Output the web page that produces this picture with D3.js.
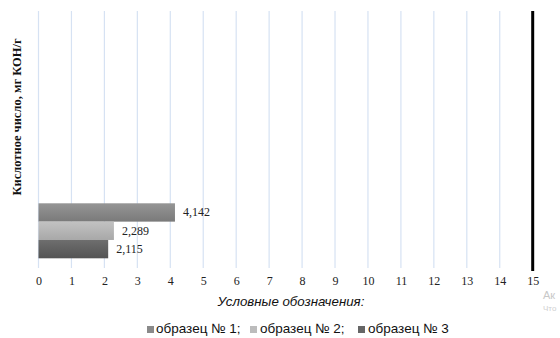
<!DOCTYPE html>
<html>
<head>
<meta charset="utf-8">
<script src="https://cdn.jsdelivr.net/npm/d3@7"></script>
<style>
  html, body { margin: 0; padding: 0; background: #fff; }
  svg { display: block; }
</style>
</head>
<body>
<svg id="chart" width="560" height="338"></svg>
<script>
// Acid number by sample
const seriesNames = ["образец № 1", "образец № 2", "образец № 3"];
const seriesValues = [4.142, 2.289, 2.115];
const valueLabels = ["4,142", "2,289", "2,115"];
const tickValues = [0, 1, 2, 3, 4, 5, 6, 7, 8, 9, 10, 11, 12, 13, 14, 15];
const yTitle = "Кислотное число, мг КОН/г";
const xTitle = "Условные обозначения:";

const barTop = ["#959595", "#c2c2c2", "#6e6e6e"];
const barBottom = ["#7a7a7a", "#a8a8a8", "#545454"];
const swatch = ["#8a8a8a", "#bcbcbc", "#666666"];

const SERIF = "'Liberation Serif', 'Times New Roman', serif";
const SANS = "'Liberation Sans', Arial, sans-serif";

const svg = d3.select("#chart");
const plot = { left: 38.5, right: 532.7, top: 11, bottom: 268 };

const x = d3.scaleLinear().domain([0, 15]).range([plot.left, plot.right]);
const y = d3.scaleBand().domain(seriesNames).range([203.3, 258.3]).padding(0);

const defs = svg.append("defs");
seriesNames.forEach((s, i) => {
  const g = defs.append("linearGradient")
    .attr("id", "g" + i).attr("x1", 0).attr("y1", 0).attr("x2", 0).attr("y2", 1);
  g.append("stop").attr("offset", "0%").attr("stop-color", barTop[i]);
  g.append("stop").attr("offset", "100%").attr("stop-color", barBottom[i]);
});

// vertical gridlines
svg.append("g")
  .selectAll("line")
  .data(tickValues.slice(0, -1))
  .join("line")
  .attr("x1", d => x(d)).attr("x2", d => x(d))
  .attr("y1", plot.top).attr("y2", plot.bottom)
  .attr("stroke", "#d6e2f3").attr("stroke-width", 1.2);

// heavy line at the upper limit
svg.append("line")
  .attr("x1", x(15)).attr("x2", x(15))
  .attr("y1", plot.top).attr("y2", 271)
  .attr("stroke", "#000").attr("stroke-width", 3);

// tick labels
const axis = d3.axisBottom(x).tickValues(tickValues).tickSize(0).tickPadding(0).tickFormat(d3.format("d"));
const ax = svg.append("g").attr("transform", `translate(0,${276})`).call(axis);
ax.attr("font-family", SERIF);
ax.select(".domain").remove();
ax.selectAll("text")
  .attr("font-family", SERIF)
  .attr("font-size", 12).attr("fill", "#222");

// bars
svg.append("g")
  .selectAll("rect")
  .data(seriesValues)
  .join("rect")
  .attr("x", x(0))
  .attr("y", (d, i) => y(seriesNames[i]))
  .attr("width", d => x(d) - x(0))
  .attr("height", y.bandwidth())
  .attr("fill", (d, i) => `url(#g${i})`);

// value labels
svg.append("g")
  .selectAll("text")
  .data(seriesValues)
  .join("text")
  .attr("x", d => x(d) + 8)
  .attr("y", (d, i) => y(seriesNames[i]) + y.bandwidth() / 2 + 4)
  .attr("font-family", SERIF)
  .attr("font-size", 12).attr("fill", "#222")
  .text((d, i) => valueLabels[i]);

// axis titles
svg.append("text")
  .attr("transform", `translate(21,${117}) rotate(-90)`)
  .attr("text-anchor", "middle")
  .attr("font-family", SERIF)
  .attr("font-size", 12.5).attr("font-weight", "bold").attr("fill", "#111")
  .text(yTitle);

svg.append("text")
  .attr("x", 291).attr("y", 306)
  .attr("text-anchor", "middle")
  .attr("font-family", SANS)
  .attr("font-size", 13.3).attr("font-style", "italic").attr("fill", "#111")
  .text(xTitle);

// legend
const legendX = [147, 250, 358];
const lg = svg.append("g");
seriesNames.forEach((name, i) => {
  lg.append("rect").attr("x", legendX[i]).attr("y", 326).attr("width", 7).attr("height", 7).attr("fill", swatch[i]);
  lg.append("text")
    .attr("x", legendX[i] + (i === 0 ? 9 : 10)).attr("y", 333)
    .attr("font-family", SANS)
    .attr("font-size", 13.5).attr("fill", "#111")
    .text(name + (i < 2 ? ";" : ""));
});

// faint overlay text at the bottom-right corner
svg.append("text").attr("x", 543).attr("y", 299)
  .attr("font-family", SANS)
  .attr("font-size", 11).attr("fill", "#c8c8c8").text("Ак");
svg.append("text").attr("x", 543).attr("y", 311)
  .attr("font-family", SANS)
  .attr("font-size", 8).attr("fill", "#d0d0d0").text("Что");
</script>
</body>
</html>
